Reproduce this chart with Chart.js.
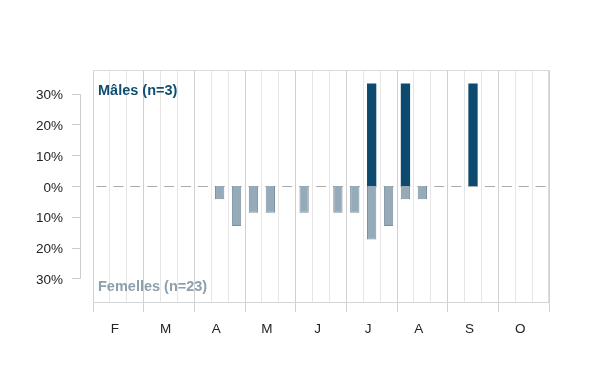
<!DOCTYPE html>
<html>
<head>
<meta charset="utf-8">
<script src="https://cdn.jsdelivr.net/npm/chart.js@4/dist/chart.umd.min.js"></script>
<style>
  html, body { margin: 0; padding: 0; background: #fff; }
  #wrap { width: 600px; height: 390px; }
</style>
</head>
<body>
<div id="wrap"><canvas id="chart"></canvas></div>
<script>
// months shown on the axis, each split in 3 decades
const months = ["F", "M", "A", "M", "J", "J", "A", "S", "O"];
const decades = ["1", "2", "3"];

// percentage of individuals per decade
const malesPct = [0, 0, 0, 0, 0, 0, 0, 0, 0, 0, 0, 0, 0, 0, 0, 0, 33.3, 0, 33.3, 0, 0, 0, 33.3, 0, 0, 0, 0];
const femalesPct = [0, 0, 0, 0, 0, 0, 0, 4.3, 13.0, 8.7, 8.7, 0, 8.7, 0, 8.7, 8.7, 17.4, 13.0, 4.3, 4.3, 0, 0, 0, 0, 0, 0, 0];

const yTicks = [-30, -20, -10, 0, 10, 20, 30];
const maleLabel = "Mâles (n=3)";
const femaleLabel = "Femelles (n=23)";

const maleColor = "#0c4b6f";
const femaleColor = "#96abb9";
const femaleBorder = "#7b909e";

const labels = [];
months.forEach((m, i) => decades.forEach(d => labels.push(m + d + "_" + i)));

Chart.defaults.font.family = "'Liberation Sans', Arial, sans-serif";
Chart.defaults.font.size = 13.5;
Chart.defaults.color = "#222";

// extra drawing: plot frame, dashed zero line, detached y axis, series names
const decor = {
  id: "decor",
  beforeDatasetsDraw(chart) {
    const { ctx, chartArea: a, scales } = chart;
    const y = scales.y;
    const binW = (a.right - a.left) / labels.length;
    ctx.save();
    // frame
    ctx.strokeStyle = "#dcdcdc";
    ctx.lineWidth = 1;
    ctx.beginPath();
    ctx.moveTo(a.left, a.top + 0.5);
    ctx.lineTo(a.right, a.top + 0.5);
    ctx.moveTo(a.right - 0.5, a.top);
    ctx.lineTo(a.right - 0.5, a.bottom);
    ctx.stroke();
    // zero line
    const y0 = Math.round(y.getPixelForValue(0)) + 0.5;
    ctx.strokeStyle = "#aaaaaa";
    ctx.setLineDash([10, binW - 10]);
    ctx.lineDashOffset = -3.5;
    ctx.beginPath();
    ctx.moveTo(a.left, y0);
    ctx.lineTo(a.right, y0);
    ctx.stroke();
    ctx.setLineDash([]);
    // y axis line and ticks
    const ax = 80.5;
    ctx.strokeStyle = "#cccccc";
    ctx.beginPath();
    ctx.moveTo(ax, Math.round(y.getPixelForValue(30)) + 0.5);
    ctx.lineTo(ax, Math.round(y.getPixelForValue(-30)) + 0.5);
    yTicks.forEach(v => {
      const py = Math.round(y.getPixelForValue(v)) + 0.5;
      ctx.moveTo(72, py);
      ctx.lineTo(ax, py);
    });
    ctx.stroke();
    ctx.restore();
  },
  afterDatasetsDraw(chart) {
    const { ctx, chartArea: a } = chart;
    ctx.save();
    ctx.font = "bold 14.5px 'Liberation Sans', Arial, sans-serif";
    ctx.textBaseline = "middle";
    ctx.textAlign = "left";
    ctx.fillStyle = "#0f4d71";
    ctx.fillText(maleLabel, a.left + 5, a.top + 21);
    ctx.fillStyle = "#8c9fad";
    ctx.fillText(femaleLabel, a.left + 5, a.bottom - 15);
    ctx.restore();
  }
};

const isMonthLine = ctx => ctx.index === undefined || ctx.index % 3 === 0;

new Chart(document.getElementById("chart"), {
  type: "bar",
  data: {
    labels: labels,
    datasets: [
      {
        label: maleLabel,
        data: malesPct,
        backgroundColor: maleColor,
        borderWidth: 0,
        barPercentage: 0.55,
        categoryPercentage: 1
      },
      {
        label: femaleLabel,
        data: femalesPct.map(v => -v),
        backgroundColor: femaleColor,
        borderColor: femaleBorder,
        borderWidth: ctx => (ctx.raw ? 1 : 0),
        barPercentage: 0.55,
        categoryPercentage: 1
      }
    ]
  },
  options: {
    responsive: true,
    maintainAspectRatio: false,
    animation: false,
    layout: { padding: { top: 70, right: 51, bottom: 38, left: 0 } },
    plugins: {
      legend: { display: false },
      tooltip: { enabled: false }
    },
    scales: {
      x: {
        stacked: true,
        offset: true,
        grid: {
          offset: true,
          color: ctx => (isMonthLine(ctx) ? "#d0d0d0" : "#e6e6e6"),
          tickColor: ctx => (isMonthLine(ctx) ? "#d0d0d0" : "rgba(0,0,0,0)"),
          tickLength: 10
        },
        border: { color: "#d6d6d6" },
        ticks: {
          autoSkip: false,
          maxRotation: 0,
          padding: 9,
          labelOffset: -3.5,
          callback: (val, i) => (i % 3 === 1 ? months[(i - 1) / 3] : "")
        },
        afterFit: scale => { scale.height = 50; }
      },
      y: {
        stacked: true,
        min: -37.7,
        max: 37.7,
        grid: { display: false, drawTicks: false },
        border: { display: false },
        afterBuildTicks: scale => { scale.ticks = yTicks.map(v => ({ value: v })); },
        ticks: {
          padding: 30,
          labelOffset: 2,
          callback: v => Math.abs(v) + "%"
        },
        afterFit: scale => { scale.width = 93; }
      }
    }
  },
  plugins: [decor]
});
</script>
</body>
</html>
